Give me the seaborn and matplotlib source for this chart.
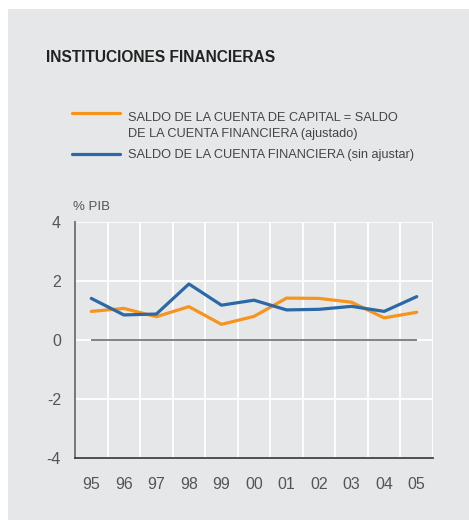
import matplotlib
matplotlib.use("Agg")
import numpy as np
import pandas as pd
import matplotlib.pyplot as plt
from matplotlib.patches import Rectangle
import seaborn as sns

years = ["95", "96", "97", "98", "99", "00", "01", "02", "03", "04", "05"]
ajustado = [0.97, 1.07, 0.79, 1.13, 0.53, 0.80, 1.42, 1.41, 1.28, 0.75, 0.94]
sin_ajustar = [1.41, 0.85, 0.88, 1.90, 1.18, 1.35, 1.02, 1.04, 1.14, 0.97, 1.47]

lab_aj = "SALDO DE LA CUENTA DE CAPITAL = SALDO\nDE LA CUENTA FINANCIERA (ajustado)"
lab_sin = "SALDO DE LA CUENTA FINANCIERA (sin ajustar)"

df = pd.concat([
    pd.DataFrame({"year": years, "valor": ajustado, "serie": lab_aj}),
    pd.DataFrame({"year": years, "valor": sin_ajustar, "serie": lab_sin}),
])

bg = "#e6e7e8"
sns.set_style("white")
plt.rcParams["font.family"] = ["Liberation Sans", "DejaVu Sans"]
plt.rcParams["axes.unicode_minus"] = False

fig = plt.figure(figsize=(4.69, 5.2), dpi=100)
fig.patch.set_facecolor("white")
fig.patches.append(Rectangle((8 / 469, 0), 1, 1 - 9 / 520, transform=fig.transFigure,
                             facecolor=bg, edgecolor="none", zorder=-10))

ax = fig.add_axes([75 / 469, 1 - 458 / 520, (433 - 75) / 469, (458 - 222) / 520])
ax.set_facecolor(bg)

sns.lineplot(data=df, x="year", y="valor", hue="serie", ax=ax,
             palette=["#f7941d", "#2b69a6"], linewidth=2.3, legend=True)

ax.hlines(0, 0, len(years) - 1, color="#6d6e70", linewidth=1.2, zorder=1)

ax.set_xlim(-0.5, len(years) - 0.5)
ax.set_ylim(-4, 4)
ax.set_yticks([-4, -2, 0, 2, 4])
ax.set_xticks(range(len(years)))
ax.set_xticklabels(years)
ax.set_xticks([i - 0.5 for i in range(len(years) + 1)], minor=True)
ax.grid(False)
ax.grid(True, which="minor", axis="x", color="white", linewidth=1.3)
ax.grid(True, which="major", axis="y", color="white", linewidth=1.3)
ax.set_axisbelow(True)
ax.tick_params(which="both", length=0)
ax.tick_params(axis="x", labelsize=11.5, colors="#555555", pad=14)
ax.tick_params(axis="y", labelsize=11.5, colors="#555555", pad=10)
ax.set_xlabel("")
ax.set_ylabel("")

for s in ["top", "right"]:
    ax.spines[s].set_visible(False)
ax.spines["left"].set_color("#6d6e70")
ax.spines["left"].set_linewidth(1.3)
ax.spines["bottom"].set_color("#333333")
ax.spines["bottom"].set_linewidth(1.2)

handles, labels = ax.get_legend_handles_labels()
leg = ax.legend(handles, labels, loc="upper left", bbox_to_anchor=(66 / 469, 1 - 106 / 520),
                bbox_transform=fig.transFigure, frameon=False, fontsize=9.2,
                handlelength=3.7, handletextpad=0.62, labelspacing=0.68, borderpad=0,
                labelcolor="#444444")
for t in leg.get_texts():
    t.set_linespacing(1.45)
# put the orange key next to the first line of its two-line label
first = leg.legend_handles[0]
first.set_ydata(np.asarray(first.get_ydata()) + 9.5)

fig.text(46 / 469, 1 - 57 / 520, "INSTITUCIONES FINANCIERAS", fontsize=11.2,
         fontweight="bold", color="#222222", va="center", ha="left")
fig.text(73 / 469, 1 - 207 / 520, "% PIB", fontsize=9.5, color="#555555",
         va="center", ha="left")

fig.savefig("out.png", dpi=100, facecolor=fig.get_facecolor())
